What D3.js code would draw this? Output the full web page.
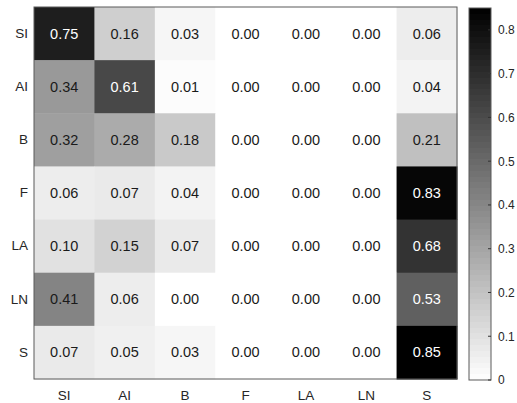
<!DOCTYPE html>
<html><head><meta charset="utf-8">
<script src="https://cdn.jsdelivr.net/npm/d3@7"></script>
<style>body{margin:0;background:#fff}svg{display:block}</style>
</head><body><svg id="c" width="517" height="403"></svg>
<script>
const rows = ["SI","AI","B","F","LA","LN","S"];
const cols = ["SI","AI","B","F","LA","LN","S"];
const vSI = [0.75,0.16,0.03,0.00,0.00,0.00,0.06];
const vAI = [0.34,0.61,0.01,0.00,0.00,0.00,0.04];
const vB  = [0.32,0.28,0.18,0.00,0.00,0.00,0.21];
const vF  = [0.06,0.07,0.04,0.00,0.00,0.00,0.83];
const vLA = [0.10,0.15,0.07,0.00,0.00,0.00,0.68];
const vLN = [0.41,0.06,0.00,0.00,0.00,0.00,0.53];
const vS  = [0.07,0.05,0.03,0.00,0.00,0.00,0.85];
const colorTicks = [0,0.1,0.2,0.3,0.4,0.5,0.6,0.7,0.8];
const cMax = 0.85;

const values = [vSI,vAI,vB,vF,vLA,vLN,vS];
const cells = [];
values.forEach((r,i)=>r.forEach((v,j)=>cells.push({row:rows[i],col:cols[j],v})));

const svg = d3.select("#c");
const L=34,R=457,T=7,B=379;
const x = d3.scaleBand().domain(cols).range([L,R]);
const y = d3.scaleBand().domain(rows).range([T,B]);
const color = d3.scaleLinear().domain([0,cMax]).range(["#ffffff","#000000"]).clamp(true);
const font = "'Liberation Sans', Arial, Helvetica, sans-serif";

svg.append("g").selectAll("rect").data(cells).join("rect")
  .attr("x",d=>x(d.col)).attr("y",d=>y(d.row))
  .attr("width",x.bandwidth()+0.5).attr("height",y.bandwidth()+0.5)
  .attr("fill",d=>color(d.v));

svg.append("g").selectAll("text").data(cells).join("text")
  .attr("x",d=>x(d.col)+x.bandwidth()/2).attr("y",d=>y(d.row)+y.bandwidth()/2)
  .attr("text-anchor","middle").attr("dominant-baseline","central")
  .attr("font-family",font).attr("font-size",14.5)
  .attr("fill",d=>d.v/cMax>0.55?"#ffffff":"#1a1a1a")
  .text(d=>d.v.toFixed(2));

svg.append("rect").attr("x",L).attr("y",T).attr("width",R-L).attr("height",B-T)
  .attr("fill","none").attr("stroke","#5a5a5a").attr("stroke-width",1);

const xa = svg.append("g").attr("transform",`translate(0,${B})`)
  .call(d3.axisBottom(x).tickSize(0).tickPadding(11));
xa.select(".domain").remove();
xa.selectAll("text").attr("font-family",font).attr("font-size",13.5).attr("fill","#262626");

const ya = svg.append("g").attr("transform",`translate(${L},0)`)
  .call(d3.axisLeft(y).tickSize(0).tickPadding(6));
ya.select(".domain").remove();
ya.selectAll("text").attr("font-family",font).attr("font-size",13.5).attr("fill","#262626");

// colorbar
const cbL=469, cbR=491, cbT=8, cbB=380;
const cy = d3.scaleLinear().domain([0,cMax]).range([cbB,cbT]);
const defs = svg.append("defs");
const grad = defs.append("linearGradient").attr("id","g").attr("x1",0).attr("y1",1).attr("x2",0).attr("y2",0);
const n=64;
for(let k=0;k<n;k++){
  const c = color((k+0.5)/n*cMax);
  grad.append("stop").attr("offset",k/n).attr("stop-color",c);
  grad.append("stop").attr("offset",(k+1)/n).attr("stop-color",c);
}
svg.append("rect").attr("x",cbL).attr("y",cbT).attr("width",cbR-cbL).attr("height",cbB-cbT)
  .attr("fill","url(#g)").attr("stroke","#5a5a5a").attr("stroke-width",1);
const ca = svg.append("g").attr("transform",`translate(${cbR},0)`)
  .call(d3.axisRight(cy).tickValues(colorTicks).tickFormat(d3.format("~g")).tickSize(0).tickPadding(7));
ca.select(".domain").remove();
ca.selectAll("text").attr("font-family",font).attr("font-size",12).attr("fill","#262626");
svg.append("g").selectAll("line").data(colorTicks).join("line")
  .attr("x1",cbR-3).attr("x2",cbR).attr("y1",d=>cy(d)).attr("y2",d=>cy(d))
  .attr("stroke","#333").attr("stroke-width",1);
</script></body></html>
